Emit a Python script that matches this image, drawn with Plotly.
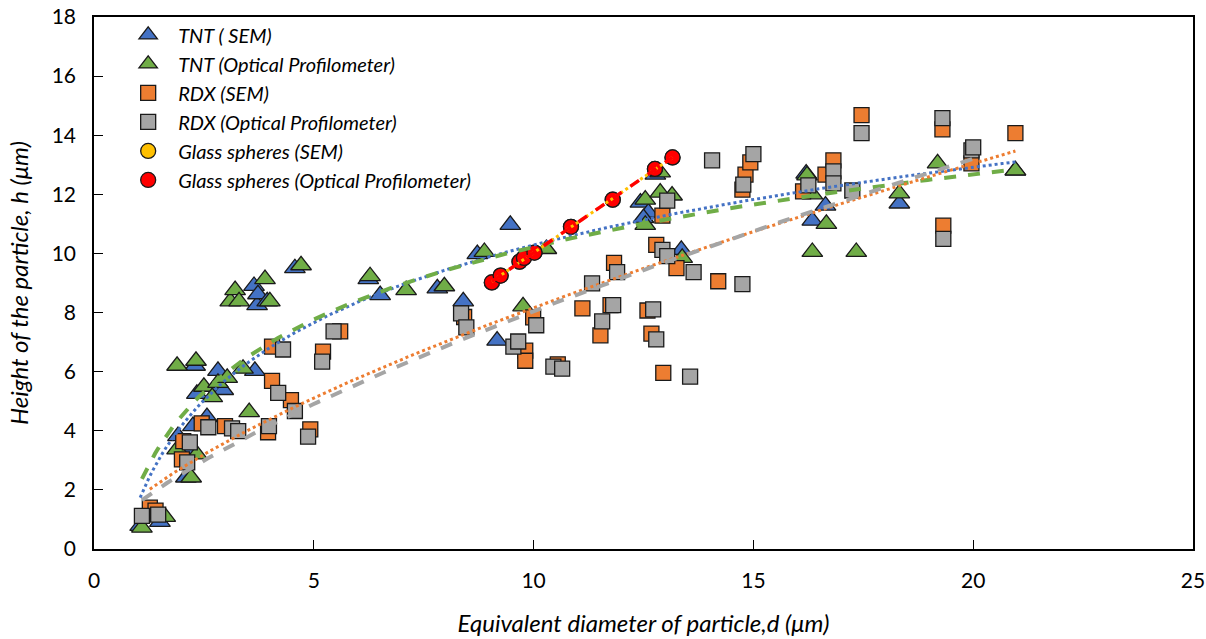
import numpy as np
import plotly.graph_objects as go

# TNT (SEM)
tnt_sem_x = [1.05, 1.5, 1.91, 2.09, 2.18, 2.25, 2.34, 2.3, 2.57, 2.82, 2.82, 2.94, 3.66, 3.64, 3.71, 3.73, 3.94,
             4.57, 6.24, 6.51, 7.81, 8.4, 8.72, 9.17, 9.47, 12.43, 12.61, 12.5, 12.77, 13.36, 16.2, 16.34, 16.64,
             18.32, 20.96]
tnt_sem_y = [0.78, 0.92, 3.82, 2.42, 3.3, 4.16, 5.25, 6.2, 4.46, 6.03, 5.52, 5.38, 6.03, 8.9, 8.25, 8.62, 8.38,
             9.5, 9.13, 8.59, 8.82, 8.38, 9.98, 7.05, 10.97, 11.72, 11.38, 11.2, 12.67, 10.12, 12.7, 11.11, 11.62,
             11.69, 12.8]
# TNT (Optical Profilometer)
tnt_op_x = [1.09, 1.62, 1.89, 1.89, 2.21, 2.34, 2.32, 2.5, 2.69, 2.82, 3.03, 3.1, 3.21, 3.3, 3.39, 3.53, 3.89,
            4.0, 4.71, 6.28, 7.1, 7.97, 8.88, 9.76, 10.29, 12.54, 12.54, 12.88, 12.88, 13.15, 13.38, 16.22, 16.34,
            16.34, 16.66, 17.34, 18.32, 19.19, 20.96]
tnt_op_y = [0.72, 1.09, 3.37, 6.2, 2.42, 3.2, 6.37, 5.49, 5.14, 5.62, 5.79, 8.38, 8.76, 8.38, 6.1, 4.63, 9.13,
            8.38, 9.6, 9.23, 8.76, 8.89, 10.05, 8.21, 10.15, 11.82, 10.97, 12.06, 12.74, 11.96, 9.85, 12.64, 12.0,
            10.05, 11.0, 10.05, 12.03, 13.05, 12.81]
# RDX (SEM)
rdx_sem_x = [1.27, 1.4, 2.0, 2.03, 2.45, 2.98, 3.96, 4.05, 4.05, 4.48, 4.92, 5.21, 5.6, 8.42, 9.99, 9.81, 9.81,
             10.55, 11.11, 11.75, 11.52, 11.83, 12.59, 12.68, 12.79, 12.93, 12.95, 13.25, 14.2, 14.75, 14.82, 14.93,
             16.13, 16.64, 16.82, 17.46, 19.3, 19.32, 19.96, 20.96]
rdx_sem_y = [1.4, 1.3, 3.03, 3.65, 4.25, 4.16, 3.95, 6.85, 5.69, 5.04, 4.05, 6.68, 7.36, 7.85, 7.84, 6.71, 6.37,
             6.25, 8.14, 8.25, 7.23, 9.68, 8.07, 7.29, 10.29, 11.28, 5.96, 9.5, 9.06, 12.16, 12.67, 13.08,
             12.1, 12.67, 13.15, 14.68, 14.2, 10.94, 13.05, 14.07]
# RDX (Optical Profilometer)
rdx_op_x = [1.09, 1.46, 2.12, 2.18, 2.6, 3.14, 3.28, 3.98, 4.19, 4.3, 4.57, 4.87, 5.19, 5.45, 8.35, 8.47, 9.54,
            9.65, 10.06, 10.45, 10.65, 11.33, 11.56, 11.81, 11.9, 12.72, 12.79, 12.93, 13.04, 13.04, 13.56, 13.64,
            14.06, 14.75, 14.77, 15.0, 16.25, 16.82, 16.82, 17.25, 17.46, 19.3, 19.32, 19.96, 20.0]
rdx_op_y = [1.12, 1.16, 2.93, 3.61, 4.12, 4.08, 3.99, 4.16, 5.28, 6.75, 4.67, 3.8, 6.34, 7.36, 7.97, 7.5, 6.85,
            7.02, 7.57, 6.17, 6.1, 8.99, 7.7, 8.25, 9.37, 8.11, 7.09, 10.12, 9.91, 11.79, 5.83, 9.37,
            13.15, 8.96, 12.33, 13.36, 12.3, 12.78, 12.37, 12.13, 14.07, 14.58, 10.49, 13.49, 13.59]
# Glass spheres (SEM)
glass_sem_x = [9.05, 9.25, 9.68, 9.78, 10.02, 10.85, 11.8, 12.76, 13.16]
glass_sem_y = [9.02, 9.25, 9.72, 9.85, 10.03, 10.9, 11.82, 12.86, 13.25]
# Glass spheres (Optical Profilometer)
glass_op_x = [9.05, 9.25, 9.68, 9.78, 10.02, 10.85, 11.8, 12.76, 13.16]
glass_op_y = [9.02, 9.25, 9.72, 9.85, 10.03, 10.9, 11.82, 12.86, 13.25]

names = ["TNT ( SEM)", "TNT (Optical Profilometer)", "RDX (SEM)", "RDX (Optical Profilometer)",
         "Glass spheres (SEM)", "Glass spheres (Optical Profilometer)"]
colors = ["#4472C4", "#70AD47", "#ED7D31", "#A5A5A5", "#FFC000", "#FF0000"]
symbols = ["triangle-up", "triangle-up", "square", "square", "circle", "circle"]
sizes = [18, 18, 15, 15, 15, 15]
series = [(tnt_sem_x, tnt_sem_y), (tnt_op_x, tnt_op_y), (rdx_sem_x, rdx_sem_y), (rdx_op_x, rdx_op_y),
          (glass_sem_x, glass_sem_y), (glass_op_x, glass_op_y)]
fit_kind = ["log", "log", "power", "power", "linear", "linear"]
fit_dash = ["dot", "dash", "dot", "dash", "dot", "dash"]
fit_width = [3, 4, 3, 4, 3, 3.5]

fig = go.Figure()
for (x, y), n, c, s, sz in zip(series, names, colors, symbols, sizes):
    fig.add_trace(go.Scatter(x=x, y=y, mode="markers", name=n,
                             marker=dict(color=c, symbol=s, size=sz, line=dict(color="#1a1a1a", width=1.3))))

for (x, y), c, k, d, w in zip(series, colors, fit_kind, fit_dash, fit_width):
    x = np.array(x); y = np.array(y)
    xs = np.linspace(x.min(), x.max(), 200)
    if k == "log":
        a, b = np.polyfit(np.log(x), y, 1)
        ys = a * np.log(xs) + b
    elif k == "power":
        a, b = np.polyfit(np.log(x), np.log(y), 1)
        ys = np.exp(b) * xs ** a
    else:
        a, b = np.polyfit(x, y, 1)
        ys = a * xs + b
    fig.add_trace(go.Scatter(x=xs, y=ys, mode="lines", showlegend=False, hoverinfo="skip",
                             line=dict(color=c, dash=d, width=w)))

font_family = "Lato, 'Open Sans', sans-serif"
fig.update_layout(
    width=1206, height=639,
    paper_bgcolor="white", plot_bgcolor="white",
    margin=dict(l=94, r=13, t=17, b=90, autoexpand=False),
    font=dict(family=font_family, color="#000000", size=21),
    legend=dict(x=0.022, y=1.003, xanchor="left", yanchor="top", bgcolor="rgba(0,0,0,0)",
                font=dict(size=20, style="italic"), tracegroupgap=0, itemsizing="trace",
                itemwidth=50),
    xaxis=dict(range=[0, 25], dtick=5, showgrid=False, zeroline=False, showline=True, linecolor="black",
               linewidth=1.5, mirror=True, ticks="inside", ticklen=9, tickcolor="black",
               ticklabelstandoff=12, tickfont=dict(size=21), automargin=False,
               title=dict(text="Equivalent diameter of particle,d (μm)", font=dict(size=24, style="italic"),
                          standoff=24)),
    yaxis=dict(range=[0, 18], dtick=2, showgrid=False, zeroline=False, showline=True, linecolor="black",
               linewidth=1.5, mirror=True, ticks="inside", ticklen=9, tickcolor="black",
               ticklabelstandoff=12, tickfont=dict(size=21), automargin=False,
               title=dict(text="Height of the particle, h (μm)", font=dict(size=24, style="italic"),
                          standoff=16)),
)
fig.write_html("out.html", config={"displayModeBar": False},
               post_script="document.body.style.margin='0px';document.body.style.overflow='hidden';")
